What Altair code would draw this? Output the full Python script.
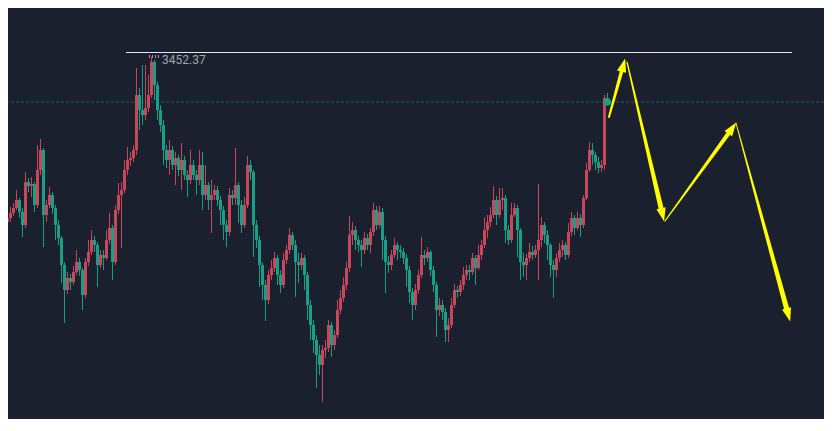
import altair as alt
import pandas as pd

# ---------------- candle data (index, OHLC) ----------------
opens = [
    3294, 3297, 3287, 3291, 3296, 3301, 3309, 3297, 3284, 3327,
    3323, 3325, 3304, 3339, 3359, 3294, 3304, 3314, 3301, 3284,
    3271, 3244, 3219, 3231, 3227, 3237, 3247, 3239, 3214, 3247,
    3257, 3269, 3264, 3244, 3254, 3251, 3269, 3281, 3247, 3299,
    3314, 3319, 3339, 3349, 3351, 3359, 3414, 3399, 3394, 3401,
    3414, 3447, 3424, 3399, 3384, 3359, 3349, 3359, 3344, 3351,
    3339, 3349, 3334, 3329, 3344, 3334, 3329, 3344, 3314, 3324,
    3309, 3314, 3319, 3309, 3299, 3284, 3277, 3314, 3311, 3324,
    3304, 3284, 3304, 3344, 3337, 3284, 3269, 3244, 3224, 3209,
    3234, 3241, 3251, 3234, 3224, 3249, 3259, 3274, 3264, 3247,
    3244, 3251, 3234, 3204, 3184, 3169, 3154, 3144, 3159, 3161,
    3184, 3164, 3174, 3199, 3211, 3224, 3241, 3274, 3279, 3269,
    3264, 3259, 3271, 3264, 3277, 3299, 3284, 3297, 3269, 3247,
    3244, 3254, 3264, 3259, 3257, 3251, 3239, 3217, 3204, 3219,
    3234, 3254, 3251, 3257, 3239, 3224, 3199, 3204, 3197, 3179,
    3184, 3204, 3219, 3217, 3224, 3234, 3239, 3237, 3251, 3241,
    3254, 3264, 3279, 3287, 3294, 3309, 3294, 3309, 3311, 3279,
    3269, 3294, 3301, 3279, 3247, 3244, 3251, 3257, 3254, 3259,
    3269, 3284, 3274, 3264, 3244, 3239, 3251, 3259, 3264, 3254,
    3277, 3291, 3281, 3291, 3284, 3311, 3339, 3359, 3354, 3347,
    3341, 3344, 3411,
]
closes = [
    3297, 3287, 3291, 3296, 3301, 3309, 3297, 3284, 3327, 3323,
    3325, 3304, 3339, 3359, 3294, 3304, 3314, 3301, 3284, 3271,
    3244, 3219, 3231, 3227, 3237, 3247, 3239, 3214, 3247, 3257,
    3269, 3264, 3244, 3254, 3251, 3269, 3281, 3247, 3299, 3314,
    3319, 3339, 3349, 3351, 3359, 3414, 3399, 3394, 3401, 3414,
    3447, 3424, 3399, 3384, 3359, 3349, 3359, 3344, 3351, 3339,
    3349, 3334, 3329, 3344, 3334, 3329, 3344, 3314, 3324, 3309,
    3314, 3319, 3309, 3299, 3284, 3277, 3314, 3311, 3324, 3304,
    3284, 3304, 3344, 3337, 3284, 3269, 3244, 3224, 3209, 3234,
    3241, 3251, 3234, 3224, 3249, 3259, 3274, 3264, 3247, 3244,
    3251, 3234, 3204, 3184, 3169, 3154, 3144, 3159, 3161, 3184,
    3164, 3174, 3199, 3211, 3224, 3241, 3274, 3279, 3269, 3264,
    3259, 3271, 3264, 3277, 3299, 3284, 3297, 3269, 3247, 3244,
    3254, 3264, 3259, 3257, 3251, 3239, 3217, 3204, 3219, 3234,
    3254, 3251, 3257, 3239, 3224, 3199, 3204, 3197, 3179, 3184,
    3204, 3219, 3217, 3224, 3234, 3239, 3237, 3251, 3241, 3254,
    3264, 3279, 3287, 3294, 3309, 3294, 3309, 3311, 3279, 3269,
    3294, 3301, 3279, 3247, 3244, 3251, 3257, 3254, 3259, 3269,
    3284, 3274, 3264, 3244, 3239, 3251, 3259, 3264, 3254, 3277,
    3291, 3281, 3291, 3284, 3311, 3339, 3359, 3354, 3347, 3341,
    3344, 3411, 3407,
]
highs = [
    3309, 3301, 3297, 3302, 3306, 3319, 3311, 3301, 3337, 3331,
    3332, 3327, 3364, 3370, 3361, 3309, 3322, 3317, 3304, 3289,
    3273, 3247, 3237, 3235, 3243, 3259, 3251, 3241, 3251, 3269,
    3279, 3273, 3267, 3259, 3259, 3279, 3296, 3284, 3304, 3326,
    3327, 3349, 3362, 3357, 3364, 3441, 3421, 3444, 3444, 3434,
    3452.37, 3449, 3427, 3404, 3389, 3364, 3369, 3363, 3357, 3354,
    3366, 3353, 3339, 3359, 3349, 3339, 3359, 3357, 3344, 3327,
    3329, 3324, 3323, 3313, 3303, 3289, 3321, 3319, 3361, 3327,
    3309, 3312, 3353, 3349, 3339, 3289, 3273, 3247, 3229, 3239,
    3249, 3257, 3254, 3239, 3256, 3264, 3281, 3277, 3269, 3256,
    3256, 3254, 3237, 3209, 3189, 3174, 3164, 3164, 3169, 3189,
    3187, 3179, 3209, 3219, 3232, 3247, 3293, 3287, 3283, 3273,
    3269, 3277, 3275, 3281, 3306, 3303, 3303, 3301, 3273, 3253,
    3259, 3271, 3267, 3264, 3261, 3255, 3243, 3221, 3225, 3239,
    3272, 3259, 3262, 3259, 3243, 3227, 3211, 3209, 3201, 3191,
    3211, 3225, 3223, 3229, 3242, 3244, 3244, 3256, 3254, 3264,
    3269, 3292, 3294, 3302, 3323, 3313, 3321, 3321, 3314, 3284,
    3306, 3306, 3304, 3281, 3256, 3255, 3266, 3263, 3264, 3325,
    3292, 3287, 3279, 3266, 3249, 3256, 3266, 3269, 3267, 3286,
    3297, 3294, 3297, 3295, 3314, 3346, 3367, 3366, 3357, 3352,
    3349, 3414, 3416,
]
lows = [
    3284, 3279, 3252, 3287, 3293, 3299, 3291, 3272, 3281, 3317,
    3312, 3297, 3301, 3334, 3262, 3287, 3301, 3295, 3269, 3264,
    3226, 3186, 3215, 3219, 3224, 3234, 3233, 3199, 3211, 3243,
    3254, 3257, 3222, 3241, 3239, 3249, 3265, 3229, 3244, 3295,
    3261, 3316, 3334, 3343, 3347, 3354, 3379, 3384, 3389, 3397,
    3411, 3409, 3389, 3377, 3344, 3341, 3334, 3339, 3324, 3333,
    3319, 3329, 3312, 3325, 3329, 3314, 3324, 3299, 3309, 3299,
    3276, 3309, 3303, 3284, 3269, 3262, 3273, 3304, 3304, 3286,
    3276, 3281, 3301, 3329, 3252, 3261, 3222, 3209, 3188, 3205,
    3229, 3237, 3224, 3216, 3221, 3245, 3255, 3259, 3212, 3226,
    3239, 3219, 3189, 3169, 3156, 3121, 3134, 3107, 3151, 3157,
    3152, 3159, 3171, 3195, 3207, 3219, 3237, 3264, 3259, 3257,
    3242, 3255, 3259, 3256, 3273, 3279, 3281, 3249, 3216, 3236,
    3239, 3251, 3249, 3251, 3245, 3222, 3206, 3189, 3199, 3215,
    3231, 3244, 3247, 3233, 3217, 3172, 3193, 3189, 3167, 3167,
    3181, 3201, 3211, 3213, 3219, 3229, 3229, 3234, 3224, 3239,
    3249, 3261, 3271, 3282, 3291, 3284, 3291, 3299, 3266, 3264,
    3266, 3292, 3252, 3229, 3232, 3229, 3247, 3249, 3251, 3229,
    3262, 3266, 3249, 3232, 3211, 3232, 3247, 3252, 3249, 3251,
    3273, 3274, 3279, 3272, 3281, 3309, 3337, 3344, 3339, 3336,
    3337, 3339, 3403,
]

# ---------------- annotations ----------------
high_label = "3452.37"
high_label_pos = [53.5, 3449.5]
leader_x = [49.17, 52.83]
leader_price = 3452.5
level_line_x = [41.5, 263.5]
level_line_price = 3456.5
last_price = 3407

arrow_id = [1, 1, 2, 2, 3, 3, 4, 4]
arrow_x = [202.5, 206.77, 208.5, 219.93, 221.17, 242.49, 244.83, 261.78]
arrow_p = [3392, 3438.4, 3447, 3299.7, 3288, 3376.3, 3386, 3199.6]
arrow_w = [2.0, 3.6, 1.2, 5.0, 1.2, 4.2, 0.9, 5.2]
head_x = [207.13, 220.23, 243.27, 262.13]
head_p = [3442.3, 3295.8, 3379.5, 3195.7]
head_angle = [15.4, 166.9, 35.9, 164.75]

BG = "#1b202e"
RED = "#c8475a"
GREEN = "#17a086"
YELLOW = "#ffff00"

# page content starts 8px in; 1 index = 3px, 1 point = 1px
X_DOMAIN = [2.1667, 274.1667]
Y_DOMAIN = [3090, 3501]


def xq(field):
    return alt.X(field, type="quantitative", axis=None,
                 scale=alt.Scale(domain=X_DOMAIN, nice=False, zero=False,
                                 padding=0))


def yq(field):
    return alt.Y(field, type="quantitative", axis=None,
                 scale=alt.Scale(domain=Y_DOMAIN, nice=False, zero=False,
                                 padding=0))


candles = pd.DataFrame({
    "i": list(range(len(closes))),
    "open": opens,
    "close": closes,
    "high": highs,
    "low": lows,
})
candles["dir"] = ["up" if c > o else "down" for o, c in zip(opens, closes)]

color = alt.Color("dir:N", legend=None,
                  scale=alt.Scale(domain=["up", "down"], range=[RED, GREEN]))

wicks = alt.Chart(candles).mark_rule(strokeWidth=1).encode(
    x=xq("i"), y=yq("low"), y2="high", color=color)
bodies = alt.Chart(candles).mark_bar(size=3).encode(
    x=xq("i"), y=yq("open"), y2="close", color=color)

level_df = pd.DataFrame({"x": [level_line_x[0]], "x2": [level_line_x[1]],
                         "p": [level_line_price]})
level = alt.Chart(level_df).mark_rule(color="#e6e6e6", strokeWidth=1).encode(
    x=xq("x"), x2="x2", y=yq("p"))

last_df = pd.DataFrame({"p": [last_price]})
last_line = alt.Chart(last_df).mark_rule(
    color="#1f5c5a", strokeWidth=1, strokeDash=[3, 2]).encode(y=yq("p"))

dot_df = pd.DataFrame({"i": [len(closes) - 1], "p": [last_price]})
dot = alt.Chart(dot_df).mark_circle(size=50, color=GREEN, opacity=1).encode(
    x=xq("i"), y=yq("p"))

leader_df = pd.DataFrame({"x": [leader_x[0]], "x2": [leader_x[1]],
                          "p": [leader_price]})
leader = alt.Chart(leader_df).mark_rule(
    color="#9aa0ab", strokeWidth=3, strokeDash=[1, 2]).encode(
    x=xq("x"), x2="x2", y=yq("p"))

label_df = pd.DataFrame({"x": [high_label_pos[0]], "p": [high_label_pos[1]],
                         "t": [high_label]})
label = alt.Chart(label_df).mark_text(
    align="left", baseline="middle", font="Roboto", fontSize=12,
    color="#a0a6b1").encode(x=xq("x"), y=yq("p"), text="t:N")

arrows_df = pd.DataFrame({"id": arrow_id, "x": arrow_x, "p": arrow_p,
                          "w": arrow_w})
arrows = alt.Chart(arrows_df).mark_trail(color=YELLOW).encode(
    x=xq("x"), y=yq("p"), detail="id:N",
    size=alt.Size("w:Q", scale=None, legend=None))

heads_df = pd.DataFrame({"x": head_x, "p": head_p, "a": head_angle})
heads = alt.Chart(heads_df).mark_point(
    shape="M0,-1L0.55,0.6L-0.55,0.6Z", filled=True, size=289,
    color=YELLOW, opacity=1, strokeWidth=0).encode(
    x=xq("x"), y=yq("p"), angle=alt.Angle("a:Q", scale=None))

chart = alt.layer(
    last_line, level, wicks, bodies, dot, leader, label, arrows, heads
).properties(
    width=816, height=411,
    autosize=alt.AutoSizeParams(type="none"),
    padding=0,
    background=BG,
).configure_view(stroke=None)

chart.save("out.html", embed_options={"renderer": "svg", "actions": False})
